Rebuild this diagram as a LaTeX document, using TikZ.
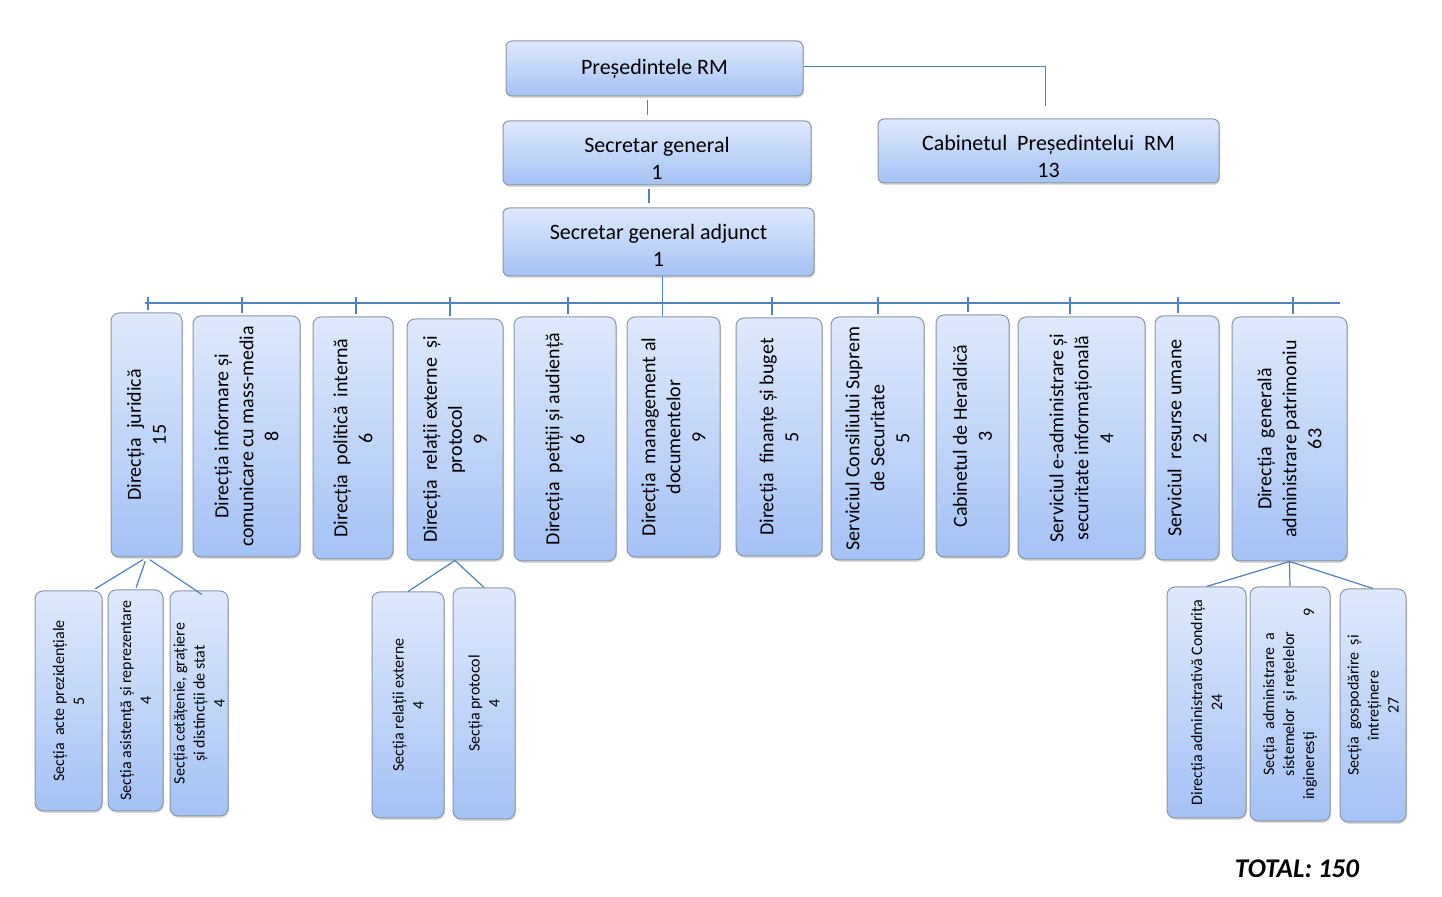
\documentclass[tikz,border=0pt]{standalone}
\usepackage{fontspec}
\setmainfont{Carlito}
\usetikzlibrary{shadows}

% Define colors
\definecolor{boxtop}{RGB}{223,233,252}
\definecolor{boxbot}{RGB}{164,194,245}
\definecolor{boxline}{RGB}{140,150,166}
\definecolor{linkblue}{RGB}{79,129,189}

\tikzset{
  topbox/.style={draw=boxline, line width=0.5pt, rounded corners=3pt,
    top color=boxtop, bottom color=boxbot, align=center,
    drop shadow={shadow xshift=0.5pt, shadow yshift=-0.9pt, opacity=0.3},
    font=\fontsize{11}{13.5}\selectfont},
  toptext/.style={align=center, font=\fontsize{11}{13.5}\selectfont, yshift=-2.5pt},
  colbox/.style={draw=boxline, line width=0.5pt, rounded corners=4pt, rotate=90,
    top color=boxtop, bottom color=boxbot, align=center, inner sep=1pt,
    drop shadow={shadow xshift=0.5pt, shadow yshift=-0.9pt, opacity=0.3},
    font=\fontsize{10}{12.5}\selectfont},
  subbox/.style={colbox, font=\fontsize{8}{10}\selectfont},
  link/.style={draw=linkblue, line width=0.6pt}
}

\begin{document}
\begin{tikzpicture}[x=0.5pt, y=-0.5pt]
  \useasboundingbox (0,0) rectangle (1442,897);

  % Top of the hierarchy
  \node[topbox, minimum width=148.5pt, minimum height=27.5pt] (pres) at (654.5,68.5) {Președintele RM};
  \node[topbox, minimum width=154pt, minimum height=32pt,
    label={[toptext]center:{Secretar general\\1}}] (sg) at (657,153) {};
  \node[topbox, minimum width=155.5pt, minimum height=34pt,
    label={[toptext, yshift=1pt]center:{Secretar general adjunct\\1}}] (sga) at (658.5,242) {};
  \node[topbox, minimum width=170.5pt, minimum height=32pt,
    label={[toptext]center:{Cabinetul\ \ Președintelui\ \ RM\\13}}] (cab) at (1048.5,151) {};

  % Directions and services (rotated text, so east is the top edge)
  \node[colbox, minimum width=122pt, minimum height=35.5pt] (dj) at (146.5,435) {Direcția\ \ juridică\\15};
  \node[colbox, minimum width=120.5pt, minimum height=53.5pt] (dim) at (246.5,436.5) {Direcția informare și\\comunicare cu mass-media\\8};
  \node[colbox, minimum width=121pt, minimum height=40pt] (dpi) at (353,438) {Direcția\ \ politică\ \ internă\\6};
  \node[colbox, minimum width=120.5pt, minimum height=48pt] (dre) at (455,439.5) {Direcția\ \ relații externe\ \ și\\protocol\\9};
  \node[colbox, minimum width=122pt, minimum height=51pt] (dpa) at (565,439) {Direcția\ \ petiții și audiență\\6};
  \node[colbox, minimum width=120pt, minimum height=46.5pt] (dm) at (673.5,437) {Direcția\ \ management al\\documentelor\\9};
  \node[colbox, minimum width=119pt, minimum height=43pt] (dfb) at (779,437) {Direcția\ \ finanțe și buget\\5};
  \node[colbox, minimum width=121.5pt, minimum height=46.5pt] (scss) at (877.5,438.5) {Serviciul Consiliului Suprem\\de Securitate\\5};
  \node[colbox, minimum width=121pt, minimum height=36.5pt] (ch) at (972.5,436) {Cabinetul de Heraldică\\3};
  \node[colbox, minimum width=121pt, minimum height=63.5pt] (sea) at (1081.5,438) {Serviciul e-administrare și\\securitate informațională\\4};
  \node[colbox, minimum width=122pt, minimum height=32pt] (sru) at (1187,438) {Serviciul\ \ resurse umane\\2};
  \node[colbox, minimum width=122pt, minimum height=57.5pt] (dgap) at (1289.5,439) {Direcția\ \ generală\\administrare patrimoniu\\63};

  % Sections
  \node[subbox, minimum width=110pt, minimum height=33.5pt] (sap) at (68.5,701) {Secția\ \ acte prezidențiale\\5};
  \node[subbox, minimum width=110.5pt, minimum height=27.5pt] (sar) at (135.5,700.5) {Secția asistență și reprezentare\\4};
  \node[subbox, minimum width=112.5pt, minimum height=29pt] (scg) at (199,703.5) {Secția cetățenie, grațiere\\și distincții de stat\\4};
  \node[subbox, minimum width=113pt, minimum height=36pt] (sre) at (408,705) {Secția relații externe\\4};
  \node[subbox, minimum width=115.5pt, minimum height=31pt] (sp) at (484,703.5) {Secția protocol\\4};
  \node[subbox, minimum width=115.5pt, minimum height=39.5pt] (dac) at (1206.5,702.5) {Direcția administrativă Condrița\\24};
  \node[subbox, minimum width=117pt, minimum height=40pt] (sas) at (1290,704) {Secția\ \ administrare\ \ a\\sistemelor\ \ și rețelelor\\\makebox[96pt]{ingineresți\hfill 9}};
  \node[subbox, minimum width=116.5pt, minimum height=33pt] (sgi) at (1373,705.5) {Secția\ \ gospodărire\ \ și\\întreținere\\27};

  % Connectors
  \draw[link, shorten <=2pt, shorten >=2.5pt] ([xshift=-3.5pt]pres.south) -- ([xshift=-3.5pt]pres.south |- sg.north);
  \draw[link, shorten <=2pt, shorten >=2pt] ([xshift=-4pt]sg.south) -- ([xshift=-4pt]sg.south |- sga.north);
  \draw[link, shorten >=6pt] ([yshift=1pt]pres.east) -| ([xshift=-1.5pt]cab.north);
  \draw[link] ([xshift=2pt]sga.south) -- ([xshift=2pt]sga.south |- dm.east);

  % Bus line with ticks
  \coordinate (busL) at (145,303);
  \coordinate (busR) at (1340,303);
  \draw[link] (busL) -- (busR);
  \foreach \n/\tx in {dj/148, dim/242, dpi/356, dre/450, dpa/568, dfb/772, scss/878, ch/968, sea/1070, sru/1178, dgap/1293}
    \draw[link, shorten >=1pt] (\tx,297) -- (\tx,297 |- \n.east);

  % Sections under their directions
  \draw[link, shorten <=2pt, shorten >=1.5pt] (dj.west) -- ([xshift=12pt]sap.east);
  \draw[link, shorten <=2pt, shorten >=1pt] (dj.west) -- (sar.east);
  \draw[link, shorten <=2pt] (dj.west) -- ([xshift=1.5pt, yshift=-2pt]scg.east);
  \draw[link] (dre.west) -- (sre.east);
  \draw[link] (dre.west) -- (sp.east);
  \draw[link] (dgap.west) -- (dac.east);
  \draw[link] (dgap.west) -- (sas.east);
  \draw[link] (dgap.west) -- (sgi.east);

  % Total
  \node[font=\bfseries\itshape\fontsize{13.5}{16}\selectfont] (total) at (1297,869) {TOTAL: 150};
\end{tikzpicture}
\end{document}
